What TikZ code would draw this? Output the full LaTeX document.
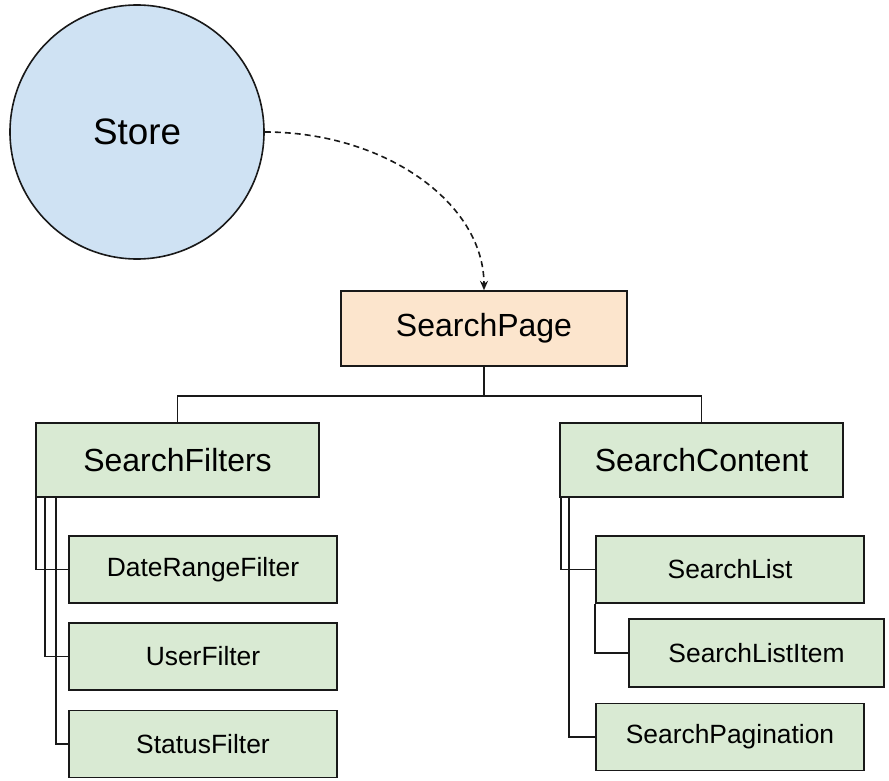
\documentclass[tikz,border=0pt]{standalone}
\usepackage{fontspec}
\setmainfont{Liberation Sans}
\usetikzlibrary{arrows.meta}
\definecolor{xanh}{HTML}{CFE2F3}
\definecolor{la}{HTML}{D9EAD3}
\definecolor{cam}{HTML}{FCE5CD}
\begin{document}
\begin{tikzpicture}[x=0.75pt,y=-0.75pt,line width=1.2pt,draw=black!90]
\tikzset{b/.style={draw=black!90,rectangle,inner sep=0pt,fill=la,minimum width=212.25pt,minimum height=55.5pt,font=\fontsize{24}{28}\selectfont},
bn/.style={b,minimum width=201pt,minimum height=50.25pt,font=\fontsize{19.8}{23}\selectfont}}
\useasboundingbox(0,0) rectangle (889,781);
\path(137,132)node[circle,draw=black!90,fill=xanh,minimum size=190.5pt,inner sep=0pt,font=\fontsize{27.6}{32}\selectfont](St){Store};
\path(484,328.5)node[b,fill=cam,minimum width=214.5pt,minimum height=56.25pt](SP){SearchPage};
\path(177.5,460)node[b](SF){SearchFilters}(701.5,460)node[b](SC){SearchContent};
%%Nhánh trái
\path(203,569.5)node[bn](DRF){DateRangeFilter}++(0,87)node[bn](UF){UserFilter}++(0,87.5)node[bn](StF){StatusFilter};
%%Nhánh phải
\path(730,569.5)node[bn](SL){SearchList}(756.5,653)node[bn,minimum width=191.25pt,minimum height=51pt](SLI){SearchListItem}(730,737)node[bn](SPg){SearchPagination};
\foreach \x in {SF,SC}
\draw(SP.south)--++(0,29)-|(\x.north);
\foreach \x/\d/\y in {
SF/1/DRF,SF/10/UF,SF/21/StF,
SC/2/SL,SC/10/SPg,
SL/0/SLI}
\draw(\x.south west)++(\d,0)|-(\y.west);
\draw[dash pattern=on 4.5pt off 3pt,-{Stealth[length=7pt,width=6pt]}](St.east)..controls(385,132)and(484,203)..(SP.north);
\end{tikzpicture}
\end{document}
